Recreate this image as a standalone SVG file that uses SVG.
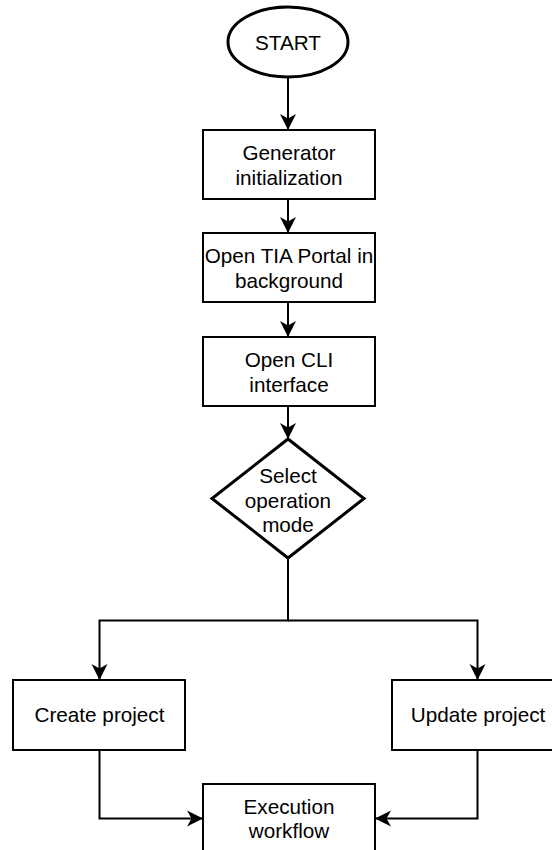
<svg xmlns="http://www.w3.org/2000/svg" width="552" height="850" viewBox="0 0 552 850">
  <style>
    .box { fill: #ffffff; stroke: #000000; stroke-width: 2; }
    .thick { fill: #ffffff; stroke: #000000; stroke-width: 3; }
    .lbl { font-family: "Liberation Sans", Arial, sans-serif; font-size: 20.7px; fill: #000000; text-anchor: middle; }
    .conn { fill: none; stroke: #000000; stroke-width: 2; marker-end: url(#arrow); }
  </style>
  <defs>
    <marker id="arrow" markerUnits="userSpaceOnUse" markerWidth="18" markerHeight="18" viewBox="0 0 18 18" refX="16" refY="9" orient="auto">
      <path d="M0,1 L16,9 L0,17 L4.5,9 Z" fill="#000000"/>
    </marker>
  </defs>
  <rect x="0" y="0" width="552" height="850" fill="#ffffff"/>
  <g id="connectors">
    <path class="conn" d="M288,77 L288,130"/>
    <path class="conn" d="M288,199 L288,233"/>
    <path class="conn" d="M288,302 L288,337"/>
    <path class="conn" d="M288,406 L288,439"/>
    <path class="conn" d="M288,558 L288,620.5 L99.5,620.5 L99.5,680"/>
    <path class="conn" d="M288,620.5 L477.5,620.5 L477.5,680"/>
    <path class="conn" d="M99.5,750 L99.5,818.5 L203,818.5"/>
    <path class="conn" d="M477.5,750 L477.5,818.5 L375,818.5"/>
  </g>
  <g id="start">
    <ellipse class="thick" cx="288" cy="42" rx="60" ry="35"/>
    <text class="lbl" x="288" y="49.5">START</text>
  </g>
  <g id="generator-init">
    <rect class="box" x="203" y="130" width="172" height="69"/>
    <text class="lbl" x="289" y="160">Generator</text>
    <text class="lbl" x="289" y="184.5">initialization</text>
  </g>
  <g id="open-tia">
    <rect class="box" x="203" y="233" width="172" height="69"/>
    <text class="lbl" x="289" y="263">Open TIA Portal in</text>
    <text class="lbl" x="289" y="287.5">background</text>
  </g>
  <g id="open-cli">
    <rect class="box" x="203" y="337" width="172" height="69"/>
    <text class="lbl" x="289" y="367">Open CLI</text>
    <text class="lbl" x="289" y="391.5">interface</text>
  </g>
  <g id="select-mode">
    <polygon class="thick" points="288,439 364,498.5 288,558 212,498.5"/>
    <text class="lbl" x="288" y="483">Select</text>
    <text class="lbl" x="288" y="507.5">operation</text>
    <text class="lbl" x="288" y="532">mode</text>
  </g>
  <g id="create-project">
    <rect class="box" x="13" y="680" width="172" height="70"/>
    <text class="lbl" x="99.5" y="721.5">Create project</text>
  </g>
  <g id="update-project">
    <rect class="box" x="392" y="680" width="172" height="70"/>
    <text class="lbl" x="478" y="721.5">Update project</text>
  </g>
  <g id="execution-workflow">
    <rect class="box" x="203" y="784" width="172" height="69"/>
    <text class="lbl" x="289" y="814">Execution</text>
    <text class="lbl" x="289" y="838">workflow</text>
  </g>
</svg>
